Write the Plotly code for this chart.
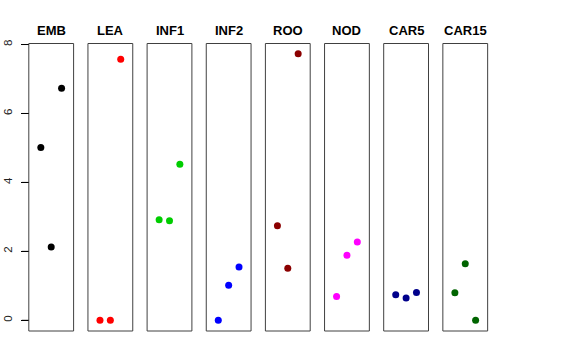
import plotly.graph_objects as go

groups = ["EMB", "LEA", "INF1", "INF2", "ROO", "NOD", "CAR5", "CAR15"]
x_pos = [1, 2, 3]
values = {
    "EMB": [5.01, 2.13, 6.73],
    "LEA": [0.0, 0.0, 7.57],
    "INF1": [2.92, 2.89, 4.53],
    "INF2": [0.0, 1.02, 1.55],
    "ROO": [2.74, 1.51, 7.73],
    "NOD": [0.69, 1.89, 2.27],
    "CAR5": [0.74, 0.65, 0.81],
    "CAR15": [0.80, 1.64, 0.0],
}
colors = ["#000000", "#FF0000", "#00CD00", "#0000FF", "#8B0000", "#FF00FF", "#00008B", "#006400"]
y_ticks = [0, 2, 4, 6, 8]

W, H = 576, 360
ML, MR, MT, MB = 20, 20, 20, 20
PW, PH = W - ML - MR, H - MT - MB
left0, step, pw = 28.8, 59.15, 44.8
top_px, bot_px = 43.5, 331.0
ydom = [(H - bot_px - MB) / PH, (H - top_px - MB) / PH]
line_col = "#404040"

fig = go.Figure()
layout = dict(
    width=W, height=H,
    margin=dict(l=ML, r=MR, t=MT, b=MB, autoexpand=False),
    paper_bgcolor="white", plot_bgcolor="white",
    showlegend=False,
    font=dict(family="Liberation Sans, Arial, sans-serif", color="black"),
)
shapes = []
annotations = []
ymin, ymax = -0.31, 8.03
for i, g in enumerate(groups):
    n = "" if i == 0 else str(i + 1)
    x0 = (left0 + i * step - ML) / PW
    x1 = (left0 + i * step + pw - ML) / PW
    layout["xaxis" + n] = dict(domain=[x0, x1], range=[-0.16, 4.16], showticklabels=False,
                               ticks="", showgrid=False, zeroline=False, showline=False,
                               anchor="y" + n, fixedrange=True)
    yax = dict(domain=ydom, range=[ymin, ymax], showgrid=False, zeroline=False,
               showline=False, anchor="x" + n, fixedrange=True, automargin=False)
    if i == 0:
        yax.update(tickmode="array", tickvals=y_ticks, ticktext=[str(v) for v in y_ticks],
                   ticks="outside", ticklen=7, tickcolor="#000000", tickwidth=1,
                   tickangle=-90, ticklabelstandoff=4,
                   tickfont=dict(size=11.5, color="#222222"))
    else:
        yax.update(showticklabels=False, ticks="")
    layout["yaxis" + n] = yax
    fig.add_trace(go.Scatter(x=x_pos, y=values[g], mode="markers",
                             marker=dict(color=colors[i], size=7),
                             xaxis="x" + n, yaxis="y" + n, hoverinfo="skip"))
    shapes.append(dict(type="rect", xref="x%s domain" % n, yref="y%s domain" % n,
                       x0=0, x1=1, y0=0, y1=1, line=dict(color=line_col, width=1)))
    annotations.append(dict(text="<b>%s</b>" % g,
                            x=(left0 + i * step + pw / 2 - ML) / PW,
                            y=(H - 30 - MB) / PH,
                            xref="paper", yref="paper", showarrow=False,
                            font=dict(size=13, color="black"), xanchor="center", yanchor="middle"))

# y-axis tick marks on the first panel (from the tick values)
for v in y_ticks:
    shapes.append(dict(type="line", xref="x domain", yref="y", x0=-7 / pw, x1=0, y0=v, y1=v,
                       line=dict(color="#000000", width=1)))

layout["shapes"] = shapes
layout["annotations"] = annotations
fig.update_layout(**layout)
fig.write_html("out.html", config={"displayModeBar": False},
               post_script="document.body.style.margin='0px';")
